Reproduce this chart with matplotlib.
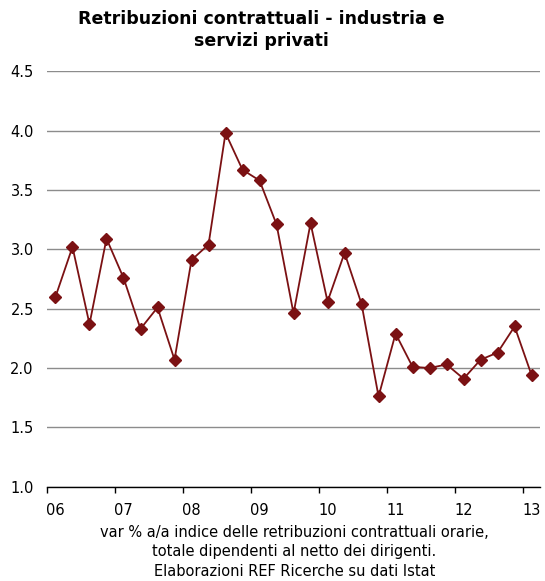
import numpy as np
import matplotlib
matplotlib.use("Agg")
import matplotlib.pyplot as plt

# quarterly values, 2006 Q1 .. 2013 Q1
values = [2.60, 3.02, 2.37, 3.09, 2.76, 2.33, 2.51, 2.07,
          2.91, 3.04, 3.98, 3.67, 3.58, 3.21, 2.46, 3.22,
          2.56, 2.97, 2.54, 1.76, 2.29, 2.01, 2.00, 2.03,
          1.91, 2.07, 2.13, 2.35, 1.94]
year_labels = ["06", "07", "08", "09", "10", "11", "12", "13"]
y_ticks = [1.0, 1.5, 2.0, 2.5, 3.0, 3.5, 4.0, 4.5]

title = "Retribuzioni contrattuali - industria e\nservizi privati"
note = ("var % a/a indice delle retribuzioni contrattuali orarie,\n"
        "totale dipendenti al netto dei dirigenti.\n"
        "Elaborazioni REF Ricerche su dati Istat")

red = "#7b1113"

fig = plt.figure(figsize=(5.45, 5.81), dpi=100)
ax = fig.add_axes([0.0862, 0.1623, 0.9048, 0.715])

x = np.arange(len(values))
ax.plot(x, values, color=red, lw=1.3, marker="D", ms=6.5,
        mec=red, mfc=red, zorder=3)

ax.set_ylim(1.0, 4.5)
ax.set_yticks(y_ticks)
ax.set_yticklabels([f"{v:.1f}" for v in y_ticks])
ax.yaxis.grid(True, color="#8c8c8c", lw=1.0)
ax.set_axisbelow(True)
ax.tick_params(axis="y", length=0, pad=9.5, labelsize=10.5)

ax.set_xlim(-0.5, len(values) - 0.5)
# tick marks on year boundaries, labels on first quarter of each year
ax.set_xticks(np.arange(-0.5, len(values), 4))
ax.set_xticklabels([])
ax.set_xticks(np.arange(0, len(values), 4), minor=True)
ax.set_xticklabels(year_labels, minor=True)
ax.tick_params(axis="x", which="major", length=4, width=1, color="black")
ax.tick_params(axis="x", which="minor", length=0, pad=12, labelsize=10.5)

for s in ["left", "right", "top"]:
    ax.spines[s].set_visible(False)
ax.spines["bottom"].set_color("black")
ax.spines["bottom"].set_linewidth(1.0)

fig.text(0.48, 0.983, title, ha="center", va="top", fontsize=12.5,
         fontweight="bold", linespacing=1.3)
fig.text(0.54, 0.097, note, ha="center", va="top", fontsize=10.5,
         linespacing=1.38)

fig.savefig("out.png", dpi=100)
